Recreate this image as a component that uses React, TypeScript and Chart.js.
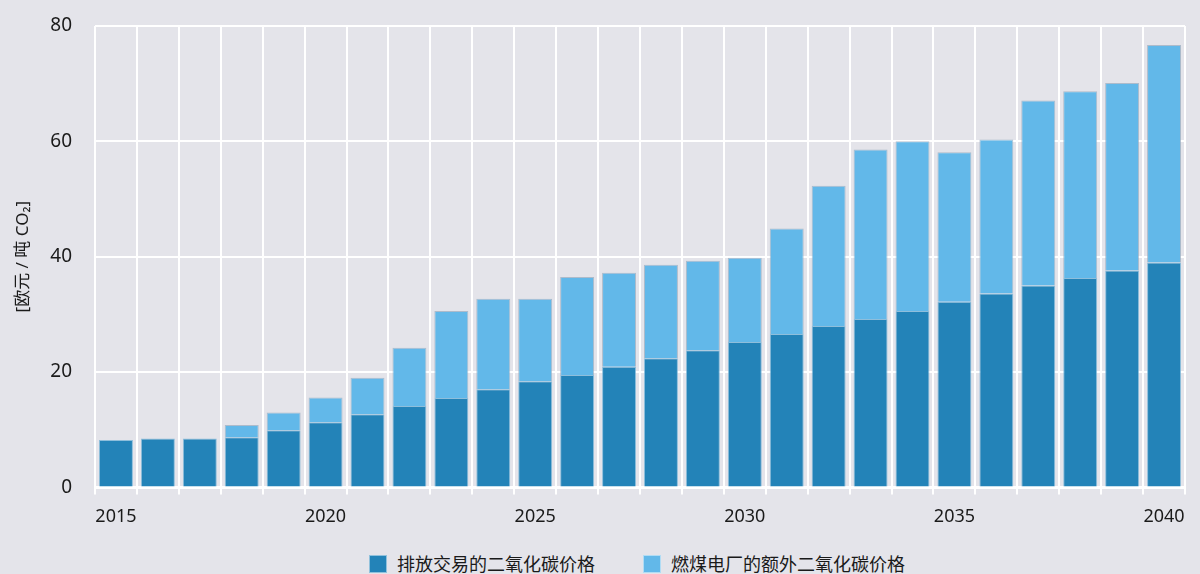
import React, { useEffect, useRef } from "react";
import { Chart, registerables } from "chart.js";

Chart.register(...registerables);

const years = [
  "2015", "2016", "2017", "2018", "2019", "2020", "2021", "2022", "2023", "2024",
  "2025", "2026", "2027", "2028", "2029", "2030", "2031", "2032", "2033", "2034",
  "2035", "2036", "2037", "2038", "2039", "2040",
];

const etsPrice = [
  8.2, 8.5, 8.5, 8.7, 9.9, 11.3, 12.7, 14.1, 15.5, 17.0,
  18.4, 19.5, 20.9, 22.4, 23.8, 25.2, 26.6, 28.0, 29.2, 30.6,
  32.2, 33.6, 35.0, 36.3, 37.6, 39.0,
];

const coalExtra = [
  0, 0, 0, 2.1, 3.1, 4.3, 6.3, 10.1, 15.1, 15.7,
  14.3, 17.0, 16.3, 16.2, 15.5, 14.6, 18.3, 24.3, 29.4, 29.4,
  25.9, 26.7, 32.1, 32.4, 32.5, 37.7,
];

const yTicks = [0, 20, 40, 60, 80];
const seriesNames = ["排放交易的二氧化碳价格", "燃煤电厂的额外二氧化碳价格"];
const seriesColors = ["#2383b8", "#62b8e9"];
const yTitle = "[欧元 / 吨 CO₂]";

const FONT = "'Noto Sans', 'Noto Sans CJK SC', sans-serif";
const BG = "#e4e4ea";

export default function App() {
  const ref = useRef<HTMLCanvasElement | null>(null);

  useEffect(() => {
    if (!ref.current) return;
    const bgPlugin = {
      id: "bg",
      beforeDraw(chart: any) {
        const { ctx, width, height } = chart;
        ctx.save();
        ctx.fillStyle = BG;
        ctx.fillRect(0, 0, width, height);
        ctx.restore();
      },
    };
    const chart = new Chart(ref.current, {
      type: "bar",
      data: {
        labels: years,
        datasets: [
          {
            label: seriesNames[0],
            data: etsPrice,
            backgroundColor: seriesColors[0],
            borderColor: "rgba(120,180,215,0.8)",
            borderWidth: 1,
            stack: "s",
          },
          {
            label: seriesNames[1],
            data: coalExtra,
            backgroundColor: seriesColors[1],
            borderColor: "rgba(150,170,190,0.7)",
            borderWidth: 1,
            stack: "s",
          },
        ],
      },
      options: {
        animation: false,
        responsive: true,
        maintainAspectRatio: false,
        layout: { padding: { left: 10, right: 15, top: 26, bottom: 0 } },
        datasets: {
          bar: { categoryPercentage: 0.81, barPercentage: 1 },
        } as any,
        scales: {
          x: {
            stacked: true,
            grid: {
              offset: true,
              color: "#ffffff",
              lineWidth: 2,
              tickLength: 7,
            },
            border: { display: true, color: "#ffffff", width: 3 },
            ticks: {
              autoSkip: false,
              maxRotation: 0,
              padding: 12,
              color: "#1a1a1a",
              font: { family: FONT, size: 18 },
              callback: (v: any, i: number) => (Number(years[i]) % 5 === 0 ? years[i] : ""),
            },
          },
          y: {
            stacked: true,
            min: 0,
            max: 80,
            afterFit: (axis: any) => {
              axis.width = 85;
              axis.paddingTop = 0;
              axis.paddingBottom = 0;
            },
            afterBuildTicks: (axis: any) => {
              axis.ticks = yTicks.map((v) => ({ value: v }));
            },
            grid: { color: "#ffffff", lineWidth: 2, tickLength: 0, drawTicks: false },
            border: { display: false },
            ticks: {
              padding: 23,
              color: "#1a1a1a",
              font: { family: FONT, size: 19 },
            },
            title: {
              display: true,
              text: yTitle,
              color: "#1a1a1a",
              font: { family: FONT, size: 17 },
              padding: { top: 3, bottom: 0 },
            },
          },
        },
        plugins: {
          legend: { display: false },
          tooltip: { enabled: false },
        },
      },
      plugins: [bgPlugin],
    });
    return () => chart.destroy();
  }, []);

  return (
    <div style={{ position: "fixed", left: 0, top: 0, width: 1200, height: 574, background: BG, overflow: "hidden" }}>
      <div style={{ position: "absolute", left: 0, top: 0, width: 1200, height: 540 }}>
        <canvas ref={ref} />
      </div>
      <div
        style={{
          position: "absolute",
          left: 92,
          top: 552,
          width: 1090,
          display: "flex",
          justifyContent: "center",
          gap: 48,
          fontFamily: FONT,
          fontSize: 18,
          color: "#1a1a1a",
          lineHeight: "24px",
        }}
      >
        {seriesNames.map((name, i) => (
          <div key={name} style={{ display: "flex", alignItems: "center", gap: 10 }}>
            <span
              style={{
                display: "inline-block",
                width: 18,
                height: 18,
                background: seriesColors[i],
                boxSizing: "border-box",
                border: "1px solid rgba(255,255,255,0.5)",
              }}
            />
            <span>{name}</span>
          </div>
        ))}
      </div>
    </div>
  );
}
